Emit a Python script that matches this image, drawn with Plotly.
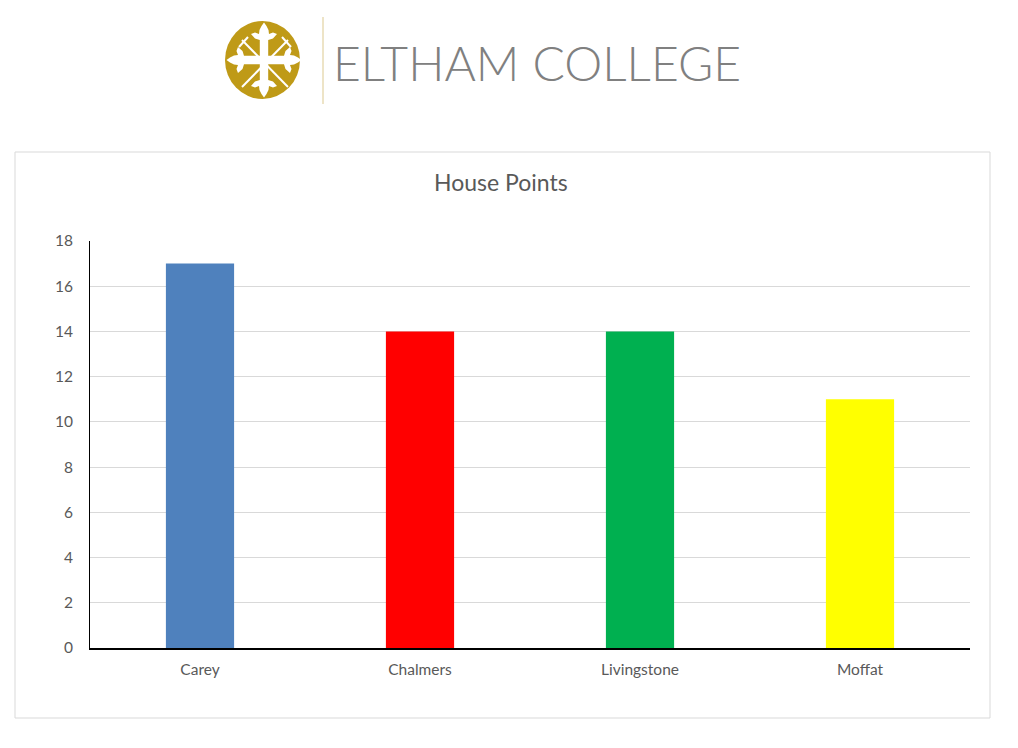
import math
import plotly.graph_objects as go

houses = ["Carey", "Chalmers", "Livingstone", "Moffat"]
points = [17, 14, 14, 11]
bar_colors = ["#4F81BD", "#FF0000", "#00B050", "#FFFF00"]
y_ticks = [0, 2, 4, 6, 8, 10, 12, 14, 16, 18]
chart_title = "House Points"
brand = "ELTHAM COLLEGE"

OFF = 8  # page body margin
W, H = 1010, 740
L, R, T, B = 90 - OFF, 970 - OFF, 241 - OFF, 648 - OFF


def px(x):
    return (x - OFF - L) / (R - L)


def py(y):
    return (B - (y - OFF)) / (B - T)


def path_from(pts):
    return "M " + " L ".join(f"{px(x):.5f},{py(y):.5f}" for x, y in pts) + " Z"


fig = go.Figure(go.Bar(
    x=houses, y=points, marker_color=bar_colors, marker_line_width=0,
    width=0.31, showlegend=False,
))

shapes = []
# chart box
shapes.append(dict(type="rect", xref="paper", yref="paper",
                   x0=px(15), x1=px(990), y0=py(718), y1=py(152),
                   line=dict(color="#D9D9D9", width=1), fillcolor="rgba(0,0,0,0)",
                   layer="below"))
# logo circle
shapes.append(dict(type="circle", xref="paper", yref="paper",
                   x0=px(225), x1=px(300), y0=py(99), y1=py(21),
                   line=dict(width=0), fillcolor="#BF9A17"))
cx, cy = 264, 60
# swords
for (x0, y0, x1, y1) in [(242, 40, 288, 87), (288, 40, 242, 87)]:
    shapes.append(dict(type="line", xref="paper", yref="paper",
                       x0=px(x0), y0=py(y0), x1=px(x1), y1=py(y1),
                       line=dict(color="white", width=2)))
for (x0, y0, x1, y1) in [(239, 47, 248, 37), (282, 37, 291, 47)]:
    shapes.append(dict(type="line", xref="paper", yref="paper",
                       x0=px(x0), y0=py(y0), x1=px(x1), y1=py(y1),
                       line=dict(color="white", width=2)))
# cross with fleur ends
arm = [(-4.2, 4.2), (-4.2, 20), (-9, 21.5), (-13, 26), (-9, 27.5), (-5, 26),
       (-4.5, 30), (-2.5, 34), (0, 37.5), (2.5, 34), (4.5, 30), (5, 26), (9, 27.5),
       (13, 26), (9, 21.5), (4.2, 20)]
pts = []
for k in range(4):
    a = k * math.pi / 2
    ca, sa = math.cos(a), math.sin(a)
    for v, u in arm:
        bx, by = v, -u
        pts.append((cx + bx * ca - by * sa, cy + bx * sa + by * ca))
shapes.append(dict(type="path", xref="paper", yref="paper", path=path_from(pts),
                   fillcolor="white", line=dict(width=0)))
# divider
shapes.append(dict(type="line", xref="paper", yref="paper",
                   x0=px(323), x1=px(323), y0=py(104), y1=py(17),
                   line=dict(color="#DCC98F", width=1)))

annotations = [
    dict(text=brand, xref="paper", yref="paper", x=px(537), y=py(62),
         xanchor="center", yanchor="middle", showarrow=False,
         font=dict(family="Lato", size=48, color="#808080", weight=300)),
    dict(text=chart_title, xref="paper", yref="paper", x=px(501), y=py(182),
         xanchor="center", yanchor="middle", showarrow=False,
         font=dict(family="Lato", size=23, color="#595959")),
]

fig.update_layout(
    width=W, height=H,
    margin=dict(l=L, r=W - R, t=T, b=H - B, autoexpand=False),
    paper_bgcolor="white", plot_bgcolor="white",
    bargap=0.69,
    shapes=shapes, annotations=annotations,
    font=dict(family="Lato", size=15, color="#595959"),
    xaxis=dict(showline=True, linecolor="black", linewidth=1.5, ticks="",
               showgrid=False, ticklabelstandoff=7, tickfont=dict(size=15.5)),
    yaxis=dict(range=[0, 18], tickvals=y_ticks, showline=True, linecolor="black",
               linewidth=1, gridcolor="#D9D9D9", gridwidth=1, ticks="",
               zeroline=False, ticklabelstandoff=13, tickfont=dict(size=15.5)),
)

fig.write_html("out.html")
